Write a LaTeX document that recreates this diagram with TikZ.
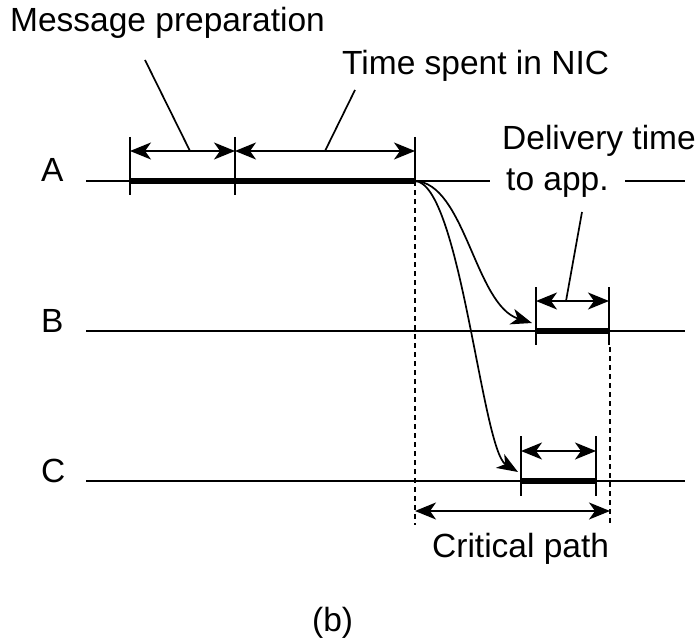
\documentclass[tikz,border=0pt]{standalone}
\usepackage{fontspec}
\setmainfont{Liberation Sans}
\usetikzlibrary{arrows.meta}

\tikzset{
  lbl/.style={inner sep=0pt, font=\fontsize{33.5}{40}\selectfont},
  timeline/.style={line width=1.9pt},
  busy/.style={line width=6.5pt},
  bound/.style={line width=1.9pt},
  guide/.style={line width=1.6pt, dash pattern=on 5pt off 4pt},
  span/.style={line width=1.9pt, {Stealth[length=21pt,width=17pt,inset=6pt]}-{Stealth[length=21pt,width=17pt,inset=6pt]}},
  msg/.style={line width=1.7pt, -{Stealth[length=21pt,width=16pt,inset=6pt]}},
  leader/.style={line width=1.7pt}
}

\begin{document}
\begin{tikzpicture}[x=1pt, y=-1pt]
  \useasboundingbox (0,0) rectangle (698,639);

  % row labels
  \node[lbl, anchor=base west] (labA) at (41,182) {A};
  \node[lbl, anchor=base west] (labB) at (41,332) {B};
  \node[lbl, anchor=base west] (labC) at (41,482) {C};

  % text
  \node[lbl, anchor=base west] (prep) at (10,32) {Message preparation};
  \node[lbl, anchor=base west] (nic) at (342,75) {Time spent in NIC};
  \node[lbl, anchor=base east] (deliv) at (696,150) {Delivery time};
  \node[lbl, anchor=base west] (toapp) at (506,190) {to app.};
  \node[lbl, anchor=base west] (crit) at (432,557) {Critical path};
  \node[lbl, anchor=base west] (sub) at (312,631) {(b)};

  % points on the time lines
  \coordinate (a0) at (86,181);
  \coordinate (a1) at (130,181);
  \coordinate (a2) at (235,181);
  \coordinate (a3) at (415,181);
  \coordinate (a4) at (490,181);
  \coordinate (a5) at (625,181);
  \coordinate (a6) at (685,181);
  \coordinate (b0) at (86,331);
  \coordinate (b1) at (536,331);
  \coordinate (b2) at (609,331);
  \coordinate (b3) at (685,331);
  \coordinate (c0) at (86,481);
  \coordinate (c1) at (521,481);
  \coordinate (c2) at (596,481);
  \coordinate (c3) at (685,481);

  % time lines
  \draw[timeline] (a0) -- (a4);
  \draw[timeline] (a5) -- (a6);
  \draw[timeline] (b0) -- (b3);
  \draw[timeline] (c0) -- (c3);

  % busy intervals
  \draw[busy] (a1) -- (a3);
  \draw[busy] (b1) -- (b2);
  \draw[busy] (c1) -- (c2);

  % interval bounds
  \draw[bound] (130,137) -- (130,195);
  \draw[bound] (235,137) -- (235,195);
  \draw[bound] (415,137) -- (a3);
  \draw[bound] (536,287) -- (536,345);
  \draw[bound] (609,287) -- (609,345);
  \draw[bound] (521,436) -- (521,496);
  \draw[bound] (596,436) -- (596,496);

  % dashed guides
  \draw[guide] (a3) -- (415,525);
  \draw[guide] (610,347) -- (610,525);

  % spans
  \draw[span] (130,151) coordinate (s1) -- (235,151) coordinate (s2);
  \draw[span] (s2) -- (415,151) coordinate (s3);
  \draw[span] (536,301) coordinate (s4) -- (609,301);
  \draw[span] (521,451) -- (596,451);
  \draw[span] (415,511) -- (610,511);

  % leaders
  \draw[leader] (145,60) -- (190,151);
  \draw[leader] (355,90) -- (325,151);
  \draw[leader] (582,212) -- (566,301);

  % messages
  \draw[msg] (a3) .. controls (465,183) and (475,305) .. (532,323);
  \draw[msg] (a3) .. controls (460,183) and (482,450) .. (518,472);
\end{tikzpicture}
\end{document}
